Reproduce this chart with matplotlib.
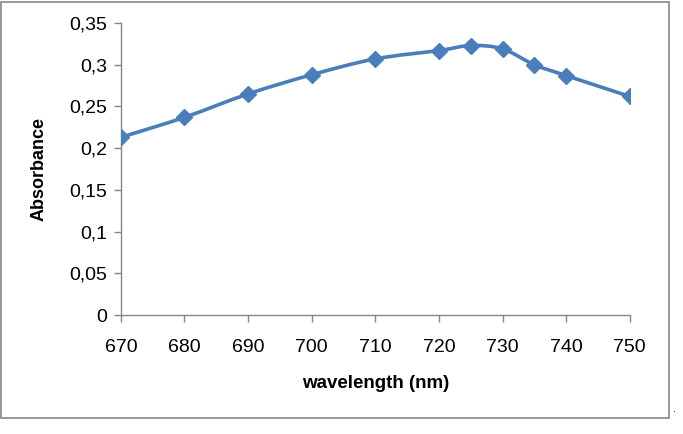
import numpy as np
import matplotlib.pyplot as plt
from matplotlib.path import Path
from matplotlib.patches import PathPatch, Rectangle

plt.rcParams['font.family'] = ['Liberation Sans', 'DejaVu Sans']

wavelength = [670, 680, 690, 700, 710, 720, 725, 730, 735, 740, 750]
absorbance = [0.213, 0.237, 0.265, 0.288, 0.307, 0.317, 0.323, 0.319, 0.300, 0.287, 0.262]
yticks = [0, 0.05, 0.1, 0.15, 0.2, 0.25, 0.3, 0.35]
ytick_labels = ["0", "0,05", "0,1", "0,15", "0,2", "0,25", "0,3", "0,35"]
xticks = [670, 680, 690, 700, 710, 720, 730, 740, 750]

blue = "#4A7EBB"
gray = "#868686"


def smooth_path(x, y, t=1/6):
    # Catmull-Rom style bezier through the points (like Excel's smoothed line)
    x = np.asarray(x, float)
    y = np.asarray(y, float)
    verts = [(x[0], y[0])]
    codes = [Path.MOVETO]
    n = len(x)
    for i in range(n - 1):
        p0 = i - 1 if i > 0 else i
        p3 = i + 2 if i + 2 < n else i + 1
        c1 = (x[i] + (x[i + 1] - x[p0]) * t, y[i] + (y[i + 1] - y[p0]) * t)
        c2 = (x[i + 1] - (x[p3] - x[i]) * t, y[i + 1] - (y[p3] - y[i]) * t)
        verts += [c1, c2, (x[i + 1], y[i + 1])]
        codes += [Path.CURVE4] * 3
    return Path(verts, codes)


fig = plt.figure(figsize=(6.83, 4.34), dpi=100)
fig.patches.append(Rectangle((0.002, 0.037), 0.978, 0.958, transform=fig.transFigure,
                             fill=False, edgecolor=gray, linewidth=1.2))
fig.text(0.985, 0.045, ".", fontsize=8, ha="left", va="bottom")

ax = fig.add_axes([0.177, 0.274, 0.745, 0.673])
ax.add_patch(PathPatch(smooth_path(wavelength, absorbance), fill=False,
                       edgecolor=blue, linewidth=2.6, capstyle="round", zorder=2))
ax.plot(wavelength, absorbance, linestyle="none", marker="D", markersize=8.5,
        color=blue, zorder=3)

ax.set_xlim(670, 750)
ax.set_ylim(0, 0.35)
ax.set_xticks(xticks)
ax.set_yticks(yticks)
ax.set_yticklabels(ytick_labels)
ax.tick_params(axis="both", colors=gray, labelcolor="black", labelsize=14,
               length=5, width=1, direction="out")
ax.tick_params(axis="x", pad=12)
ax.tick_params(axis="y", pad=5)
for s in ["top", "right"]:
    ax.spines[s].set_visible(False)
for s in ["left", "bottom"]:
    ax.spines[s].set_color(gray)
    ax.spines[s].set_linewidth(1)

ax.set_xlabel("wavelength (nm)", fontsize=13.5, fontweight="bold", va="center")
ax.set_ylabel("Absorbance", fontsize=13, fontweight="bold", va="center")
ax.xaxis.set_label_coords(0.5, -0.233)
ax.yaxis.set_label_coords(-0.160, 0.5)

fig.savefig("out.png", dpi=100)
